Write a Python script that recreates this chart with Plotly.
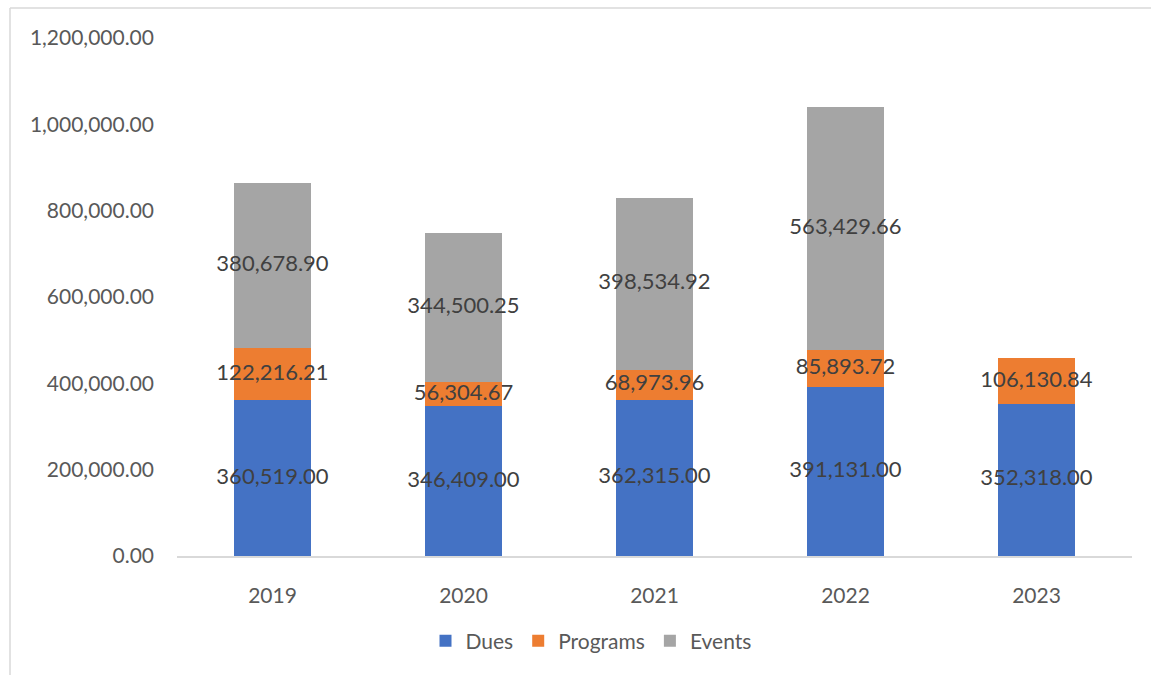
import plotly.graph_objects as go

years = ["2019", "2020", "2021", "2022", "2023"]
dues = [360519.00, 346409.00, 362315.00, 391131.00, 352318.00]
programs = [122216.21, 56304.67, 68973.96, 85893.72, 106130.84]
events = [380678.90, 344500.25, 398534.92, 563429.66, None]

series = [
    ("Dues", dues, "#4472C4"),
    ("Programs", programs, "#ED7D31"),
    ("Events", events, "#A5A5A5"),
]

FONT = "Lato"
fig = go.Figure()

# stacked bars
for name, vals, color in series:
    fig.add_trace(go.Bar(
        x=years, y=vals, name=name, marker=dict(color=color, line=dict(width=0)),
        width=0.4,
    ))

# value labels centred in each segment
base = [0.0] * len(years)
for name, vals, color in series:
    xs, ys, txt = [], [], []
    for i, v in enumerate(vals):
        if v is None:
            continue
        xs.append(years[i])
        ys.append(base[i] + v / 2)
        txt.append(f"{v:,.2f}")
        base[i] += v
    fig.add_trace(go.Scatter(
        x=xs, y=ys, text=txt, mode="text", showlegend=False, hoverinfo="skip",
        textfont=dict(family=FONT, size=22, color="#404040"),
    ))

W, H = 1151, 675
ml, mr, mt, mb = 177, 19, 38, 119
pw, ph = W - ml - mr, H - mt - mb

def px_x(x):
    return (x - ml) / pw

def px_y(y):
    return (H - mb - y) / ph

# chart-area frame (left and top edges)
fig.add_shape(type="line", xref="paper", yref="paper",
              x0=px_x(10), x1=px_x(10), y0=px_y(8), y1=px_y(H + 5),
              line=dict(color="#D9D9D9", width=1.5))
fig.add_shape(type="line", xref="paper", yref="paper",
              x0=px_x(10), x1=px_x(W + 5), y0=px_y(8), y1=px_y(8),
              line=dict(color="#D9D9D9", width=1.5))

fig.update_layout(
    width=W, height=H,
    barmode="stack",
    paper_bgcolor="white", plot_bgcolor="white",
    margin=dict(l=ml, r=mr, t=mt, b=mb),
    font=dict(family=FONT, size=21, color="#595959"),
    legend=dict(orientation="h", x=px_x(591), xanchor="center", y=px_y(641), yanchor="middle",
                font=dict(family=FONT, size=21, color="#595959"),
                itemwidth=30, traceorder="normal"),
    xaxis=dict(type="category", showline=True, linecolor="#D9D9D9", linewidth=1.5,
               showgrid=False, ticks="", ticklabelstandoff=20,
               tickfont=dict(family=FONT, size=21, color="#595959")),
    yaxis=dict(range=[0, 1200000], tickvals=[0, 200000, 400000, 600000, 800000, 1000000, 1200000],
               tickformat=",.2f", showgrid=False, zeroline=False, showline=False,
               ticks="", ticklabelstandoff=22,
               tickfont=dict(family=FONT, size=21, color="#595959")),
)

fig.write_html("out.html")
